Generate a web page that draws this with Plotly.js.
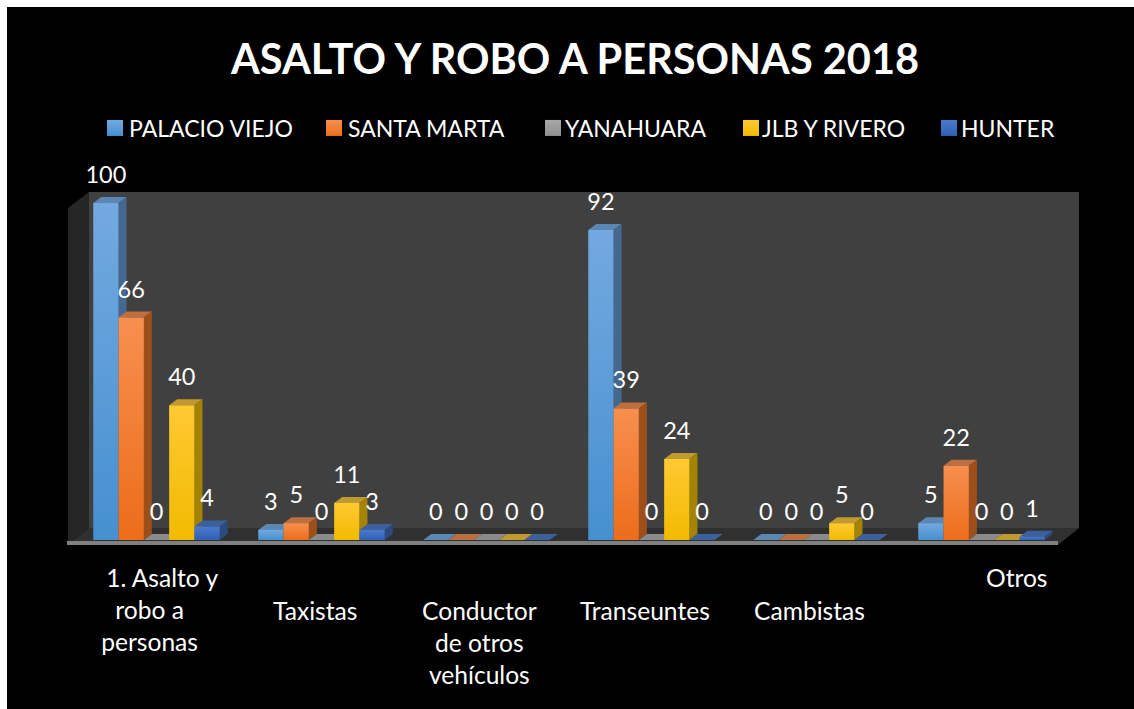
<!DOCTYPE html>
<html><head><meta charset="utf-8">
<script src="https://cdn.plot.ly/plotly-3.0.1.min.js"></script>
<style>html,body{margin:0;padding:0;background:#fff;overflow:hidden}
#chart{position:absolute;left:7px;top:7px;width:1127px;height:702px}</style>
</head><body><div id="chart"></div>
<script>
const categories=["1. Asalto y robo a personas","Taxistas","Conductor de otros vehículos","Transeuntes","Cambistas","Otros"];
const categoryLabels=["&nbsp;&nbsp;&nbsp;&nbsp;1. Asalto y<br>robo a<br>personas","Taxistas","Conductor<br>de otros<br>vehículos","Transeuntes","Cambistas","Otros"];
const labelShifts=[-7,-7,-7,-7,-7,35];
const labelRows=[0,1,1,1,1,0];
const seriesNames=["PALACIO VIEJO","SANTA MARTA","YANAHUARA","JLB Y RIVERO","HUNTER"];
const palacioViejo=[100,3,0,92,0,5];
const santaMarta=[66,5,0,39,0,22];
const yanahuara=[0,0,0,0,0,0];
const jlbRivero=[40,11,0,24,5,0];
const hunter=[4,3,0,0,0,1];
const seriesValues=[palacioViejo,santaMarta,yanahuara,jlbRivero,hunter];
const front=[["#73a9e0","#4690d0"],["#f78f4f","#ec6d1a"],["#a8a8a8","#8f8f8f"],["#ffc933","#f2ba00"],["#4a7acb","#2f60b5"]];
const topCol=["#5b87b5","#bd6f40","#8a8a8a","#c09a30","#3c5f9e"];
const sideCol=["#44688f","#9c4f18","#6f6f6f","#a38300","#2d4a80"];
const legendSwatchLeft=[107,326,545,743,941];
const legendTextLeft=[129,348,565,762,961];

const W=1127,H=702,ox=7,oy=7;
const plotL=74-ox,plotR=1064-ox,plotT=170-oy,plotB=540-oy;
const pxX=(plotR-plotL)/6,pxY=3.37,yMax=(plotB-plotT)/pxY;
const bargap=0.2333,bw=(1-bargap)/5;
const dx=8/pxX,dy=6/pxY;
const px=(x)=>(x-ox-plotL)/(plotR-plotL), py=(y)=>1-(y-oy-plotT)/(plotB-plotT);
const poly=(pts,fill,ref)=>({type:'path',layer:'below',xref:ref||'paper',yref:ref?'y':'paper',fillcolor:fill,line:{width:0},
  path:'M'+pts.map(p=>p[0]+','+p[1]).join('L')+'Z'});
const wall=(pts,fill)=>poly(pts.map(p=>[px(p[0]),py(p[1])]),fill);
const shapes=[
 wall([[89,192],[1079,192],[1079,528],[89,528]],'#404040'),
 wall([[68,208],[89,192],[89,528],[68,545]],'#262626'),
 wall([[68,545],[89,528],[1079,528],[1058,545]],'#303030'),
 wall([[67,541],[1058,541],[1058,545],[67,545]],'#808080')
];
const traces=[],textTraces=[];
seriesValues.forEach((vals,s)=>{
  traces.push({type:'bar',name:seriesNames[s],x:categories,y:vals,marker:{color:front[s][1],line:{width:0}},hoverinfo:'x+y+name'});
  const xs=[],ys=[],tx=[];
  vals.forEach((v,c)=>{
    const l=c-(1-bargap)/2+s*bw,r=l+bw;
    shapes.push(poly([[l,v],[l+dx,v+dy],[r+dx,v+dy],[r,v]],topCol[s],'x'));
    if(v>0)shapes.push(poly([[r,0],[r+dx,dy],[r+dx,v+dy],[r,v]],sideCol[s],'x'));
    xs.push(l+bw/2);ys.push(v+7.7);tx.push(String(v));
  });
  textTraces.push({type:'scatter',mode:'text',x:xs,y:ys,text:tx,textposition:'middle center',cliponaxis:false,xaxis:'x2',
    textfont:{family:'Lato, sans-serif',size:23.5,color:'#fff'},showlegend:false,hoverinfo:'skip'});
});
const annotations=categories.map((c,i)=>({xref:'x',yref:'paper',x:i,xshift:labelShifts[i],
  y:py(560.5+labelRows[i]*33),yanchor:'top',xanchor:'center',showarrow:false,align:'center',text:categoryLabels[i],
  font:{family:'Lato, sans-serif',size:24.6,color:'#fff'}}));
const layout={width:W,height:H,paper_bgcolor:'#000',plot_bgcolor:'rgba(0,0,0,0)',showlegend:true,
 margin:{l:plotL,r:W-plotR,t:plotT,b:H-plotB,pad:0,autoexpand:false},
 title:{text:'<b>ASALTO Y ROBO A PERSONAS 2018</b>',font:{family:'Lato, sans-serif',size:41.5,color:'#fff'},x:(575-ox)/W,xanchor:'center',y:1-(59-oy)/H,yanchor:'middle'},
 barmode:'group',bargap:bargap,bargroupgap:0,
 xaxis:{type:'category',categoryorder:'array',categoryarray:categories,range:[-0.5,5.5],showticklabels:false,showgrid:false,zeroline:false,showline:false,ticks:''},
 xaxis2:{overlaying:'x',range:[-0.5,5.5],visible:false},
 yaxis:{range:[0,yMax],visible:false,showgrid:false,zeroline:false},
 legend:{orientation:'h',x:px(87),xanchor:'left',y:py(128),yanchor:'middle',font:{family:'Lato, sans-serif',size:23,color:'#fff'},bgcolor:'rgba(0,0,0,0)',traceorder:'normal'},
 shapes:shapes,annotations:annotations};
Plotly.newPlot('chart',traces.concat(textTraces),layout,{displayModeBar:false}).then(gd=>{
  const svg=gd.querySelector('svg.main-svg');
  const ns='http://www.w3.org/2000/svg';
  const defs=document.createElementNS(ns,'defs');svg.insertBefore(defs,svg.firstChild);
  front.forEach((f,i)=>{
    const g=document.createElementNS(ns,'linearGradient');g.setAttribute('id','grad'+i);
    g.setAttribute('x1','0');g.setAttribute('y1','0');g.setAttribute('x2','0');g.setAttribute('y2','1');
    f.forEach((c,k)=>{const st=document.createElementNS(ns,'stop');st.setAttribute('offset',k);st.setAttribute('stop-color',c);g.appendChild(st);});
    defs.appendChild(g);
  });
  gd.querySelectorAll('.barlayer .trace').forEach((t,i)=>t.querySelectorAll('path').forEach(p=>p.style.fill='url(#grad'+i+')'));
  const lg=gd.querySelector('.legend');
  lg.querySelectorAll('[clip-path]').forEach(e=>e.removeAttribute('clip-path'));
  lg.querySelectorAll('.traces').forEach((t,i)=>{
    const p=t.querySelector('.legendpoints path');
    const txt=t.querySelector('text');
    if(p){p.style.fill='url(#grad'+i+')';p.setAttribute('d','M8,8H-8V-8H8Z');}
    const m=t.getAttribute('transform').match(/translate\(([-\d.]+)[ ,]*([-\d.]*)/);
    const r=p.getBoundingClientRect();
    const nx=parseFloat(m[1])+legendSwatchLeft[i]-r.left;
    t.setAttribute('transform','translate('+nx+','+(m[2]||0)+')');
    const tr=txt.getBoundingClientRect();
    txt.setAttribute('x',parseFloat(txt.getAttribute('x'))+legendTextLeft[i]-tr.left);
  });
  const hit=lg.querySelectorAll('.legendtoggle');hit.forEach(h=>h.style.pointerEvents='none');
});
</script></body></html>
